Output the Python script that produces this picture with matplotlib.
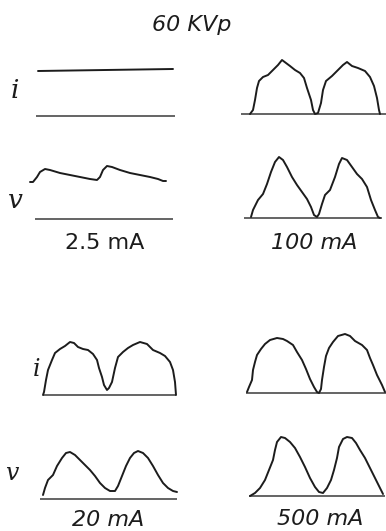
import numpy as np
import matplotlib.pyplot as plt

# Oscilloscope tracings of tube current (i) and voltage (v) at 60 kVp.
# t = position along the sweep, h = deflection above the zero line (both in px)
i_25_t = [0, 135]
i_25_h = [45, 47]
v_25_t = [0, 3, 7, 10, 15, 20, 30, 40, 50, 60, 67, 70, 73, 77, 82, 90, 100, 110, 120, 128, 133, 136]
v_25_h = [37, 37, 42, 47, 50, 49, 46, 44, 42, 40, 39, 42, 49, 53, 52, 49, 46, 44, 42, 40, 38, 38]

i_100_t = [0, 3, 5, 7, 9, 13, 18, 23, 28, 32, 36, 40, 45, 50, 54, 57, 61, 63, 65, 68, 71, 73,
           76, 82, 88, 93, 97, 102, 108, 115, 120, 124, 127, 129, 130]
i_100_h = [0, 4, 14, 26, 33, 37, 39, 44, 49, 54, 51, 48, 44, 41, 36, 26, 14, 4, 0, 1, 11, 24,
           33, 38, 44, 49, 52, 48, 46, 43, 37, 28, 16, 4, 0]
v_100_t = [0, 2, 7, 12, 16, 20, 24, 28, 32, 36, 41, 46, 51, 56, 60, 63, 66, 68, 71, 74, 79, 84,
           88, 91, 96, 101, 106, 111, 116, 120, 124, 127, 129]
v_100_h = [1, 8, 18, 24, 34, 46, 56, 61, 58, 51, 41, 33, 26, 19, 11, 3, 1, 4, 14, 23, 28, 41,
           54, 60, 58, 51, 44, 39, 31, 18, 8, 1, 0]

i_20_t = [0, 1, 3, 5, 9, 12, 17, 22, 27, 31, 35, 40, 45, 50, 54, 56, 59, 61, 64, 66, 69, 72,
          75, 80, 85, 90, 97, 104, 110, 117, 122, 127, 130, 132, 133]
i_20_h = [0, 3, 15, 25, 35, 42, 46, 49, 53, 52, 48, 46, 45, 41, 35, 27, 18, 10, 5, 7, 13, 27,
          38, 43, 47, 50, 53, 51, 45, 42, 39, 33, 25, 13, 0]
v_20_t = [0, 2, 5, 10, 14, 19, 23, 27, 32, 37, 42, 47, 52, 57, 62, 67, 72, 75, 79, 83, 87, 91,
          95, 100, 105, 110, 115, 120, 125, 130, 134]
v_20_h = [4, 11, 19, 24, 33, 41, 46, 47, 44, 39, 34, 29, 23, 16, 11, 8, 8, 13, 23, 33, 41, 46,
          48, 46, 41, 33, 24, 16, 11, 8, 7]

i_500_t = [0, 2, 5, 6, 8, 10, 14, 18, 23, 30, 36, 40, 46, 50, 55, 59, 63, 67, 70, 72, 74, 75,
           77, 79, 82, 86, 91, 98, 103, 108, 115, 120, 123, 126, 130, 135, 138]
i_500_h = [1, 6, 13, 23, 31, 38, 44, 49, 53, 55, 54, 52, 48, 41, 33, 24, 14, 6, 1, 0, 4, 13,
           26, 37, 45, 51, 57, 59, 57, 52, 48, 43, 35, 28, 18, 8, 1]
v_500_t = [0, 5, 10, 15, 19, 23, 25, 27, 31, 35, 40, 45, 50, 55, 60, 65, 69, 73, 77, 81, 84, 87,
           89, 93, 97, 102, 106, 110, 115, 120, 125, 130, 133]
v_500_h = [0, 3, 8, 16, 26, 36, 46, 54, 59, 58, 54, 48, 39, 29, 18, 9, 4, 3, 8, 16, 26, 38,
           49, 57, 59, 58, 53, 46, 38, 28, 18, 8, 2]

mA_labels = ["2.5 mA", "100 mA", "20 mA", "500 mA"]

# where each sweep sits on the page: (sweep start x, zero-line y, zero line from, zero line to)
traces = [
    (i_25_t, i_25_h, (38, 116, 36, 175)),
    (v_25_t, v_25_h, (30, 219, 35, 173)),
    (i_100_t, i_100_h, (250, 114, 241, 386)),
    (v_100_t, v_100_h, (251, 218, 244, 382)),
    (i_20_t, i_20_h, (43, 395, 43, 176)),
    (v_20_t, v_20_h, (43, 499, 40, 177)),
    (i_500_t, i_500_h, (247, 393, 246, 386)),
    (v_500_t, v_500_h, (250, 496, 249, 385)),
]
label_pos = [(105, 243, "normal"), (314, 243, "italic"), (108, 520, "italic"), (320, 519, "italic")]

ink = "#1c1c1c"

fig = plt.figure(figsize=(3.86, 5.31), dpi=100)
ax = fig.add_axes([0, 0, 1, 1])
ax.set_xlim(0, 386)
ax.set_ylim(531, 0)
ax.axis("off")

for t, h, (x0, y0, bx0, bx1) in traces:
    ax.plot([bx0, bx1], [y0, y0], color="#3a3a3a", lw=1.1, solid_capstyle="butt")
    ax.plot(x0 + np.array(t), y0 - np.array(h), color=ink, lw=1.4,
            solid_joinstyle="round", solid_capstyle="round")

for lab, (x, y, st) in zip(mA_labels, label_pos):
    ax.text(x, y, lab, ha="center", va="center", fontsize=16, style=st,
            family="DejaVu Sans", color=ink)

ax.text(192, 25, "60 KVp", ha="center", va="center", fontsize=16, style="italic",
        family="DejaVu Sans", color=ink)

sym = dict(family="DejaVu Serif", style="italic", color=ink, ha="center", va="center")
ax.text(15, 90, "i", fontsize=19, **sym)
ax.text(15, 201, "v", fontsize=19, **sym)
ax.text(37, 369, "i", fontsize=17, **sym)
ax.text(12, 474, "v", fontsize=17, **sym)

fig.savefig("out.png", dpi=100)
